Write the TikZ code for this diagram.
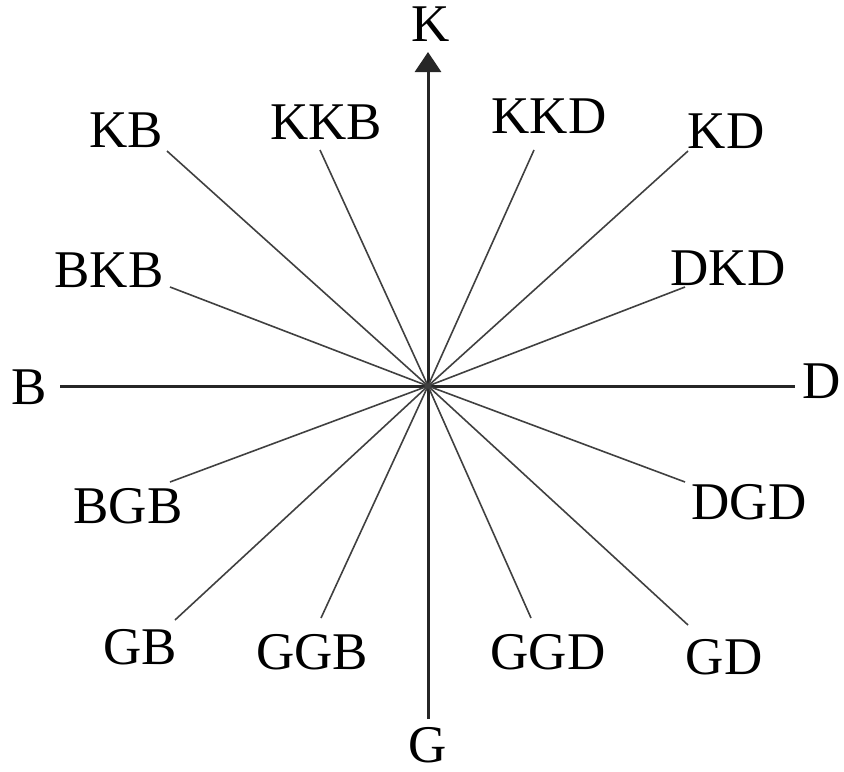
\documentclass[tikz,border=0pt]{standalone}
\usepackage{fontspec}
\setmainfont{Liberation Serif}
\usetikzlibrary{arrows.meta}
\begin{document}
\begin{tikzpicture}[x=0.5pt,y=-0.5pt,
  axis/.style={line width=1.5pt,black!85},
  ray/.style={line width=0.8pt,black!75},
  lbl/.style={inner sep=0pt,anchor=center,font=\fontsize{26.5pt}{30pt}\selectfont}]
\useasboundingbox (0,0) rectangle (844,771);
\coordinate (O) at (428,386);
% axis ends
\coordinate (Bend) at (60,386);
\coordinate (Dend) at (795,386);
\coordinate (Gend) at (428,719);
\coordinate (Kend) at (428,52);
% axes
\draw[axis] (Bend) -- (Dend);
\draw[axis,-{Triangle[width=13pt,length=10pt]}] (Gend) -- (Kend);
% axis labels
\node[lbl] (K) at (431,24) {K};
\node[lbl] (B) at (29,387) {B};
\node[lbl] (D) at (822,381) {D};
\node[lbl] (G) at (428,745) {G};
% ray ends
\coordinate (kb) at (167,151);
\coordinate (kkb) at (320,150);
\coordinate (kkd) at (534,150);
\coordinate (kd) at (688,151);
\coordinate (bkb) at (170,287);
\coordinate (dkd) at (685,287);
\coordinate (bgb) at (170,482);
\coordinate (dgd) at (685,482);
\coordinate (gb) at (175,620);
\coordinate (ggb) at (321,618);
\coordinate (ggd) at (531,618);
\coordinate (gd) at (688,625);
\foreach \p in {kb,kkb,kkd,kd,bkb,dkd,bgb,dgd,gb,ggb,ggd,gd}
  \draw[ray] (O) -- (\p);
% ray labels
\node[lbl] (KB) at (126,130) {KB};
\node[lbl] (KKB) at (326,122) {KKB};
\node[lbl] (KKD) at (549,116) {KKD};
\node[lbl] (KD) at (726,131) {KD};
\node[lbl] (BKB) at (109,270) {BKB};
\node[lbl] (DKD) at (728,268) {DKD};
\node[lbl] (BGB) at (128,506) {BGB};
\node[lbl] (DGD) at (749,502) {DGD};
\node[lbl] (GB) at (140,647) {GB};
\node[lbl] (GGB) at (312,652) {GGB};
\node[lbl] (GGD) at (548,652) {GGD};
\node[lbl] (GD) at (724,657) {GD};
\end{tikzpicture}
\end{document}
